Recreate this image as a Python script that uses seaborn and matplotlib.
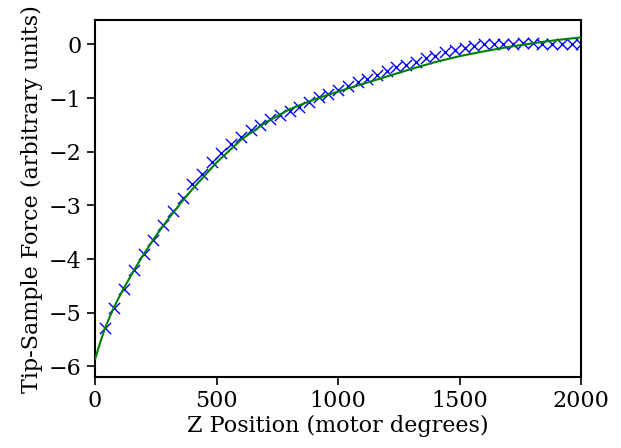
import numpy as np
import pandas as pd
import matplotlib
matplotlib.use("Agg")
import matplotlib.pyplot as plt
import seaborn as sns

# measured tip-sample force vs Z position
z_pos = [40 * k for k in range(1, 51)]
force = [-5.28, -4.92, -4.56, -4.21, -3.90, -3.64, -3.37, -3.11, -2.86, -2.61,
         -2.41, -2.20, -2.03, -1.86, -1.73, -1.60, -1.50, -1.40, -1.32, -1.24,
         -1.16, -1.07, -0.99, -0.92, -0.85, -0.78, -0.71, -0.65, -0.58, -0.50,
         -0.43, -0.38, -0.32, -0.26, -0.21, -0.15, -0.11, -0.07, -0.03, 0.00,
         0.01, 0.01, 0.01, 0.02, 0.02, 0.01, 0.00, 0.00, 0.00, 0.00]

# fitted curve
fit_z = [0, 20, 40, 60, 80, 100, 120, 160, 200, 250, 300, 350, 400, 500, 600, 700,
         800, 900, 1000, 1100, 1200, 1300, 1400, 1500, 1600, 1700, 1800, 1900, 2000]
fit_force = [-5.87, -5.57, -5.30, -5.08, -4.88, -4.70, -4.53, -4.21, -3.91, -3.57,
             -3.26, -2.97, -2.70, -2.20, -1.78, -1.46, -1.21, -1.03, -0.88, -0.74,
             -0.60, -0.46, -0.33, -0.22, -0.13, -0.05, 0.02, 0.08, 0.13]

data = pd.DataFrame({'z': z_pos, 'force': force})
fit = pd.DataFrame({'z': fit_z, 'force': fit_force})

sns.set_style("ticks")
plt.rcParams['font.family'] = ['DejaVu Serif']
plt.rcParams['font.size'] = 16
plt.rcParams['text.color'] = 'black'
plt.rcParams['axes.labelcolor'] = 'black'

fig, ax = plt.subplots(figsize=(6.21, 4.48), dpi=100)
fig.subplots_adjust(left=0.153, right=0.936, top=0.955, bottom=0.158)

sns.scatterplot(data=data, x='z', y='force', marker='x', color='b', s=65,
                linewidth=1.0, ax=ax, zorder=2)
sns.lineplot(data=fit, x='z', y='force', color='g', linewidth=1.5, ax=ax,
             zorder=3)

ax.set_xlim(0, 2000)
ax.set_ylim(-6.2, 0.45)
ax.set_xticks([0, 500, 1000, 1500, 2000])
ax.set_yticks([-6, -5, -4, -3, -2, -1, 0])
ax.set_xlabel('Z Position (motor degrees)', fontsize=16, labelpad=2)
ax.set_ylabel('Tip-Sample Force (arbitrary units)', fontsize=16, labelpad=4)
ax.tick_params(labelsize=16, length=6, width=1.2, colors='black')
for s in ax.spines.values():
    s.set_linewidth(1.5)
    s.set_color('black')

plt.savefig('out.png', dpi=100)
